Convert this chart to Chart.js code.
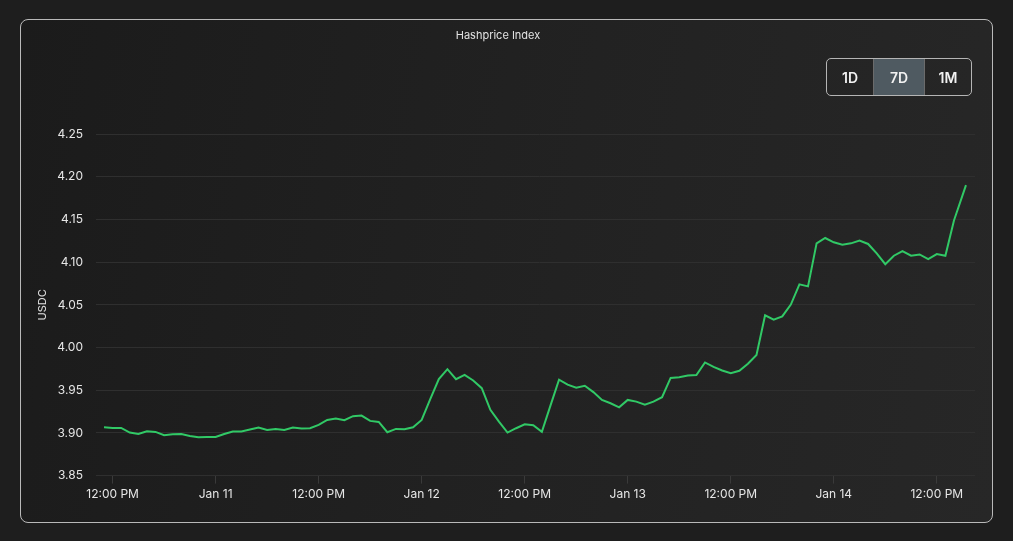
<!DOCTYPE html>
<html>
<head>
<meta charset="utf-8">
<title>Hashprice Index</title>
<script src="https://cdn.jsdelivr.net/npm/chart.js@4.4.1/dist/chart.umd.min.js"></script>
<style>
  html, body { margin: 0; padding: 0; background: #1e1e1e; }
  body { width: 1013px; height: 541px; overflow: hidden; font-family: Inter, sans-serif; }
  .card {
    position: absolute; left: 20px; top: 19px; width: 971px; height: 502px;
    border: 1px solid #b9b9b9; border-radius: 8px;
    background: linear-gradient(100deg, #1b1b1b 0%, #222222 55%, #272727 100%);
  }
  .card canvas { position: absolute; left: 0; top: 0; }
  .range {
    position: absolute; left: 805px; top: 38px; display: flex;
    border: 1px solid #b5b5b5; border-radius: 5px; overflow: hidden;
  }
  .range button {
    height: 36px; border: 0; margin: 0; padding: 0; background: transparent;
    color: #f2f2f2; font: 600 14px Inter, sans-serif; cursor: pointer;
  }
  .range button + button { border-left: 1px solid #6b6b6b; }
  .range button.active { background: #4f5a61; }
</style>
</head>
<body>
<div class="card">
  <canvas id="hashprice" width="971" height="502"></canvas>
  <div class="range">
    <button style="width:46px">1D</button>
    <button class="active" style="width:51px">7D</button>
    <button style="width:47px">1M</button>
  </div>
</div>
<script>
// hours since Jan 10 00:00, hourly samples, last one is "now"
var startHour = 11;
var lastHour = 111.4;

var hashprice = [
  3.9067, 3.9059, 3.9059, 3.9004, 3.8988, 3.9020, 3.9012, 3.8973, 3.8984, 3.8988,
  3.8965, 3.8949, 3.8953, 3.8953, 3.8988, 3.9016, 3.9016, 3.9039, 3.9063, 3.9035,
  3.9047, 3.9035, 3.9063, 3.9051, 3.9055, 3.9095, 3.9152, 3.9168, 3.9149, 3.9196,
  3.9203, 3.9141, 3.9129, 3.9008, 3.9047, 3.9043, 3.9066, 3.9152, 3.9395, 3.9630,
  3.9747, 3.9630, 3.9680, 3.9614, 3.9524, 3.9270, 3.9133, 3.9004, 3.9055, 3.9102,
  3.9090, 3.9012, 3.9320, 3.9624, 3.9565, 3.9529, 3.9553, 3.9478, 3.9387, 3.9348,
  3.9300, 3.9387, 3.9367, 3.9332, 3.9367, 3.9419, 3.9644, 3.9652, 3.9672, 3.9679,
  3.9826, 3.9774, 3.9731, 3.9699, 3.9728, 3.9810, 3.9913, 4.0378, 4.0327, 4.0366,
  4.0504, 4.0741, 4.0717, 4.1221, 4.1284, 4.1233, 4.1206, 4.1221, 4.1253, 4.1214,
  4.1103, 4.0977, 4.1076, 4.1131, 4.1076, 4.1091, 4.1036, 4.1095, 4.1076, 4.1489,
  4.1903
];

var tickHours = [12, 24, 36, 48, 60, 72, 84, 96, 108];
var tickLabels = ['12:00 PM', 'Jan 11', '12:00 PM', 'Jan 12', '12:00 PM', 'Jan 13', '12:00 PM', 'Jan 14', '12:00 PM'];

var points = hashprice.map(function(v, i) {
  var h = (i === hashprice.length - 1) ? lastHour : startHour + i;
  return { x: h, y: v };
});

Chart.defaults.font.family = 'Inter, sans-serif';

var ctx = document.getElementById('hashprice');
var config = {
  type: 'line',
  data: {
    datasets: [{
      label: 'Hashprice',
      data: points,
      borderColor: '#31c966',
      borderWidth: 2,
      pointRadius: 0,
      tension: 0,
      fill: false
    }]
  },
  options: {
    responsive: false,
    animation: false,
    layout: { padding: { left: 0, right: 17, top: 0, bottom: 16 } },
    plugins: {
      legend: { display: false },
      tooltip: { enabled: false },
      title: {
        display: true,
        text: 'Hashprice Index',
        color: '#e2e2e2',
        font: { size: 11, weight: 'normal' },
        padding: { top: 9, bottom: 92 }
      }
    },
    scales: {
      x: {
        type: 'linear',
        min: 11,
        max: 112.45,
        afterBuildTicks: function(scale) {
          scale.ticks = tickHours.map(function(h) { return { value: h }; });
        },
        ticks: {
          color: '#e6e6e6',
          font: { size: 12 },
          padding: 4,
          maxRotation: 0,
          autoSkip: false,
          callback: function(value) {
            return tickLabels[tickHours.indexOf(value)];
          }
        },
        grid: { drawOnChartArea: false, drawTicks: true, tickLength: 8, color: '#3a3a3a' },
        border: { display: false }
      },
      y: {
        min: 3.85,
        max: 4.25,
        afterFit: function(scale) { scale.width = 83; },
        ticks: {
          stepSize: 0.05,
          color: '#e6e6e6',
          font: { size: 12 },
          padding: 13,
          callback: function(value) { return value.toFixed(2); }
        },
        grid: { color: '#2f2f2f', tickLength: 8 },
        border: { display: false },
        title: {
          display: true,
          text: 'USDC',
          color: '#e2e2e2',
          font: { size: 11 },
          padding: { top: 15, bottom: 0 }
        }
      }
    }
  }
};

var chart = new Chart(ctx, config);
</script>
</body>
</html>
